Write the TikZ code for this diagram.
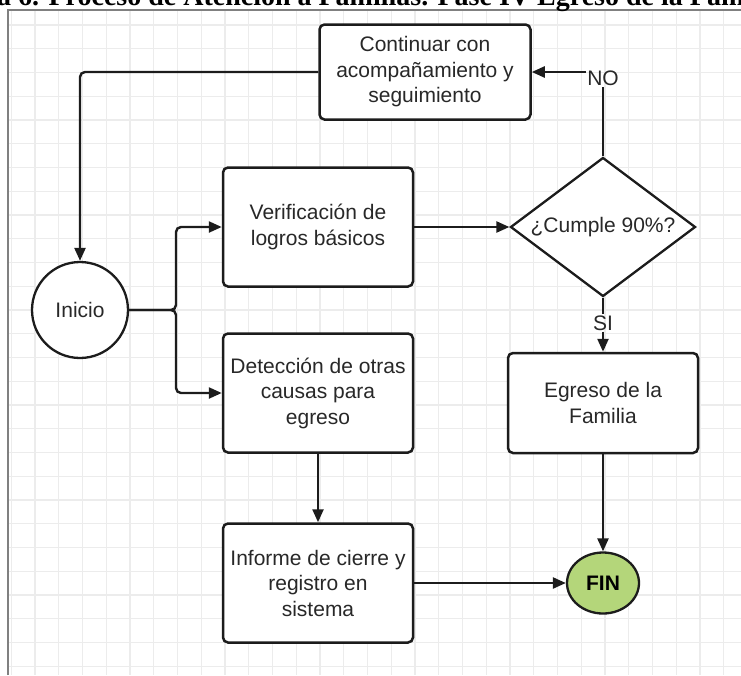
\documentclass[tikz,border=0pt]{standalone}
\usepackage{fontspec}
\setmainfont{Liberation Sans}
\newfontfamily\titlefont{Liberation Serif}
\usetikzlibrary{shapes.geometric, arrows.meta}

\definecolor{rejillagris}{RGB}{236,236,236}
\definecolor{marcogris}{RGB}{128,128,128}
\definecolor{linea}{RGB}{28,28,28}
\definecolor{texto}{RGB}{40,40,40}
\definecolor{verdefin}{RGB}{180,214,122}

\tikzset{
    rejilla/.style={draw=rejillagris, line width=1.2pt},
    marco/.style={draw=marcogris, line width=2pt},
    titulo/.style={font=\titlefont\bfseries\fontsize{28}{30}\selectfont, inner sep=0pt},
    caja/.style={draw=linea, line width=2.5pt, rounded corners=5pt, fill=white,
        minimum width=190pt, minimum height=119pt, align=center, text=texto,
        font=\fontsize{21}{25.5}\selectfont},
    inicio/.style={circle, draw=linea, line width=2.3pt, fill=white, minimum size=96pt,
        text=texto, font=\fontsize{21}{25.5}\selectfont},
    decision/.style={diamond, draw=linea, line width=2.3pt, fill=white, inner sep=0pt,
        minimum width=185pt, minimum height=139pt, text=texto,
        font=\fontsize{21}{25.5}\selectfont},
    final/.style={ellipse, draw=linea, line width=2.3pt, fill=verdefin, inner sep=0pt,
        minimum width=72pt, minimum height=61pt, font=\bfseries\fontsize{21}{25.5}\selectfont},
    etiqueta/.style={text=texto, inner sep=1pt, font=\fontsize{21}{25.5}\selectfont},
    flecha/.style={draw=linea, line width=2.4pt, -{Triangle[length=13pt, width=11pt]}},
    linea/.style={draw=linea, line width=2.4pt}
}

\begin{document}
\begin{tikzpicture}[x=1pt, y=-1pt]

    \clip (0,0) rectangle (741,675);

    % Grid and frame
    \foreach \gx in {0,...,30}
        \draw[rejilla] ({11.25+23.75*\gx},10) -- ++(0,665);
    \foreach \gy in {0,...,27}
        \draw[rejilla] (8,{25+23.75*\gy}) -- ++(733,0);
    \draw[marco] (8,675) -- (8,10) -- (741,10);

    % Title (cut off at the top)
    \node[titulo, anchor=base west] (titulo) at (-3,5)
        {a 6. Proceso de Atención a Familias. Fase IV Egreso de la Fam};

    % Nodes
    \node[inicio] (inicio) at (80,310) {Inicio};
    \node[caja, minimum width=211pt, minimum height=95pt] (continuar) at (425,72)
        {Continuar con\\acompañamiento y\\seguimiento};
    \node[caja] (verif) at (318,227) {Verificación de\\logros básicos};
    \node[caja] (detec) at (318,393) {Detección de otras\\causas para\\egreso};
    \node[caja] (informe) at (318,583) {Informe de cierre y\\registro en\\sistema};
    \node[decision] (cumple) at (603,227) {\makebox[0pt]{¿Cumple 90\%?}};
    \node[caja, minimum height=100pt] (egreso) at (603,403) {Egreso de la\\Familia};
    \node[final] (fin) at (603,583) {FIN};

    % Labels
    \node[etiqueta] (no) at (603,78) {NO};
    \node[etiqueta] (si) at (603,323) {SI};

    % Connectors
    \coordinate (rama) at (176,310);
    \draw[flecha, rounded corners=5pt] (inicio.east) -- (rama) |- (verif.west);
    \draw[flecha, rounded corners=5pt] (inicio.east) -- (rama) |- (detec.west);
    \draw[flecha] (verif.east) -- (cumple.west);
    \draw[linea] (cumple.north) -- (no.south);
    \draw[flecha] (no.west |- continuar.east) -- (continuar.east);
    \draw[flecha, rounded corners=5pt] (continuar.west) -| (inicio.north);
    \draw[linea] (cumple.south) -- (si.north);
    \draw[flecha] (si.south) -- (egreso.north);
    \draw[flecha] (egreso.south) -- (fin.north);
    \draw[flecha] (detec.south) -- (informe.north);
    \draw[flecha] (informe.east) -- (fin.west);

\end{tikzpicture}
\end{document}
